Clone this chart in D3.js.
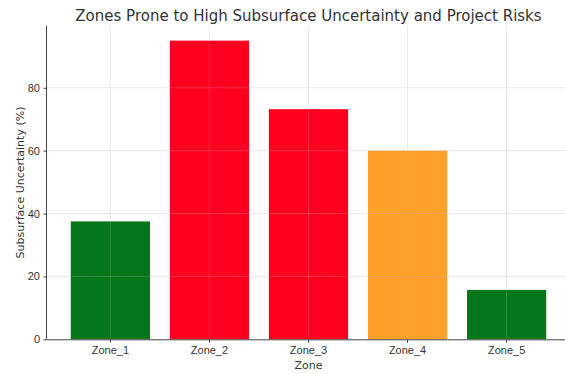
<!DOCTYPE html>
<html>
<head>
<meta charset="utf-8">
<script src="https://cdn.jsdelivr.net/npm/d3@7"></script>
<style>
  html, body { margin: 0; padding: 0; background: #fff; }
  svg { display: block; font-family: "DejaVu Sans", sans-serif; }
</style>
</head>
<body>
<svg id="chart" width="565" height="374"></svg>
<script>
// Subsurface uncertainty per zone, coloured by risk class
const zones = ["Zone_1", "Zone_2", "Zone_3", "Zone_4", "Zone_5"];
const uncertainty = [37.5, 95.0, 73.2, 60.0, 15.7];
const riskColors = ["#06781b", "#ff0020", "#ff0020", "#ffa02a", "#06781b"];
const yTicks = [0, 20, 40, 60, 80];

const svg = d3.select("#chart");
const plot = { left: 47, right: 570, top: 25.7, bottom: 339.3 };

// Bars 0.8 of a step wide, with 0.24 step of margin outside the first and last bar
const step = (plot.right - plot.left) / (zones.length - 1 + 0.8 + 0.48);
const x = d3.scaleBand()
  .domain(zones)
  .range([plot.left + 0.24 * step, plot.right - 0.24 * step])
  .paddingInner(0.2)
  .paddingOuter(0);

const yMax = d3.max(uncertainty) * 1.05;
const y = d3.scaleLinear().domain([0, yMax]).range([plot.bottom, plot.top]);

// Bars
svg.append("g")
  .selectAll("rect")
  .data(zones)
  .join("rect")
  .attr("x", d => x(d))
  .attr("width", x.bandwidth())
  .attr("y", (d, i) => y(uncertainty[i]))
  .attr("height", (d, i) => y(0) - y(uncertainty[i]))
  .attr("fill", (d, i) => riskColors[i]);

// Grid lines drawn over the bars
const grid = svg.append("g").attr("stroke", "#b0b0b0").attr("stroke-opacity", 0.35).attr("stroke-width", 0.8);
grid.selectAll("line.h")
  .data(yTicks.filter(t => t > 0))
  .join("line")
  .attr("x1", plot.left).attr("x2", plot.right)
  .attr("y1", d => y(d)).attr("y2", d => y(d));
grid.selectAll("line.v")
  .data(zones)
  .join("line")
  .attr("x1", d => x(d) + x.bandwidth() / 2).attr("x2", d => x(d) + x.bandwidth() / 2)
  .attr("y1", plot.top).attr("y2", plot.bottom);

// Axes
const yAxis = svg.append("g")
  .attr("transform", `translate(${plot.left},0)`)
  .call(d3.axisLeft(y).tickValues(yTicks).tickSize(3.5).tickPadding(3.5).tickFormat(d3.format("d")));
const xAxis = svg.append("g")
  .attr("transform", `translate(0,${plot.bottom})`)
  .call(d3.axisBottom(x).tickSize(3.5).tickPadding(3.5));

xAxis.select(".domain").attr("d", `M${plot.left},0.5H${plot.right}`);
yAxis.select(".domain").attr("d", `M-0.5,${plot.bottom}V${plot.top}`);

[xAxis, yAxis].forEach(a => {
  a.select(".domain").attr("stroke", "#444").attr("stroke-width", 1);
  a.selectAll(".tick line").attr("stroke", "#444");
  a.selectAll(".tick text").attr("fill", "#333").attr("font-size", 11);
});

// Titles
svg.append("text")
  .attr("x", (plot.left + plot.right) / 2).attr("y", 21)
  .attr("text-anchor", "middle")
  .attr("font-size", 15)
  .attr("fill", "#333")
  .text("Zones Prone to High Subsurface Uncertainty and Project Risks");

svg.append("text")
  .attr("x", (plot.left + plot.right) / 2).attr("y", 369)
  .attr("text-anchor", "middle")
  .attr("font-size", 11)
  .attr("fill", "#333")
  .text("Zone");

svg.append("text")
  .attr("transform", `translate(24,${(plot.top + plot.bottom) / 2}) rotate(-90)`)
  .attr("text-anchor", "middle")
  .attr("font-size", 11)
  .attr("fill", "#333")
  .text("Subsurface Uncertainty (%)");
</script>
</body>
</html>
